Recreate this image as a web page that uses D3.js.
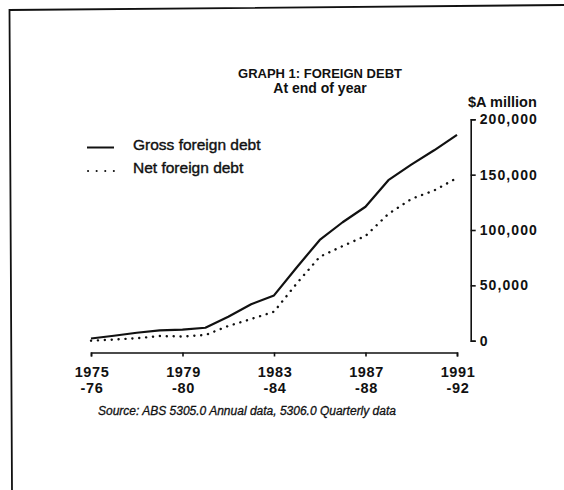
<!DOCTYPE html>
<meta charset="utf-8">
<html>
<head>
  <script src="https://d3js.org/d3.v7.min.js"></script>
</head>
<style>
body { margin: 0; background: white; }
svg text { font-family: "Liberation Sans", Arial, Helvetica, sans-serif; fill: #111; }
</style>
<body>
<div id="container"></div>
<script>

// financial years, labelled by starting year (1975-76 ... 1991-92)
var years = [1975, 1976, 1977, 1978, 1979, 1980, 1981, 1982, 1983, 1984, 1985, 1986, 1987, 1988, 1989, 1990, 1991]
// $A million
var grossDebt = [2000, 4500, 7200, 9400, 10000, 11700, 21700, 32900, 40900, 66400, 91000, 107000, 121000, 145000, 159000, 172000, 186000]
var netDebt = [0, 1000, 2200, 4200, 3800, 5100, 13300, 19600, 26200, 51900, 75800, 85500, 94600, 114500, 128000, 135700, 147000]

var xTickYears = [1975, 1979, 1983, 1987, 1991]
var xTickTop = ["1975", "1979", "1983", "1987", "1991"]
var xTickBottom = ["-76", "-80", "-84", "-88", "-92"]
var yTicks = [0, 50000, 100000, 150000, 200000]

var width = 564, height = 490

var svg = d3.select("#container").append("svg")
  .attr("width", width)
  .attr("height", height)

// frame (only top and left edges are in view, slightly skewed like the scan)
svg.append("path")
  .attr("d", "M564,5 L9.5,10 L12,490")
  .attr("fill", "none")
  .attr("stroke", "#111")
  .attr("stroke-width", 1.8)

var x = d3.scaleLinear().domain([1975, 1991]).range([91, 457])
var y = d3.scaleLinear().domain([0, 200000]).range([340.7, 119.3])

// title
svg.append("text")
   .attr("x", 320).attr("y", 78)
   .attr("text-anchor", "middle")
   .attr("font-size", "13px").attr("font-weight", "bold")
   .text("GRAPH 1: FOREIGN DEBT")
svg.append("text")
   .attr("x", 320).attr("y", 93)
   .attr("text-anchor", "middle")
   .attr("font-size", "14px").attr("font-weight", "bold")
   .text("At end of year")

// y axis on the right
var yAxis = svg.append("g")
  .attr("transform", "translate(470.7,0)")
  .call(d3.axisRight(y).tickValues(yTicks).tickSize(5).tickSizeOuter(5).tickPadding(4)
        .tickFormat(d3.format(",")))
yAxis.select(".domain").attr("stroke", "#111").attr("stroke-width", 1.6)
yAxis.selectAll(".tick line").attr("stroke", "#111").attr("stroke-width", 1.6)
yAxis.selectAll(".tick text")
     .attr("font-size", "14px").attr("font-weight", "bold")
     .attr("letter-spacing", "1.1px")
     .attr("font-family", "Liberation Sans, Arial, sans-serif")
     .attr("fill", "#111")

svg.append("text")
   .attr("x", 468).attr("y", 107)
   .attr("font-size", "14.5px").attr("font-weight", "bold")
   .text("$A million")

// x axis
var xAxis = svg.append("g")
  .attr("transform", "translate(0,352.5)")
  .call(d3.axisBottom(x).tickValues(xTickYears).tickSize(4).tickSizeOuter(4).tickFormat(""))
xAxis.select(".domain").attr("stroke", "#111").attr("stroke-width", 1.6)
xAxis.selectAll(".tick line").attr("stroke", "#111").attr("stroke-width", 1.6)

var xLabels = svg.append("g")
xLabels.selectAll("text.top")
  .data(xTickYears)
  .enter().append("text")
  .attr("x", d => x(d) + 1)
  .attr("y", 377)
  .attr("text-anchor", "middle")
  .attr("font-size", "14.5px").attr("font-weight", "bold")
  .attr("letter-spacing", "0.6px")
  .text((d, i) => xTickTop[i])
xLabels.selectAll("text.bottom")
  .data(xTickYears)
  .enter().append("text")
  .attr("x", d => x(d) + 1)
  .attr("y", 393)
  .attr("text-anchor", "middle")
  .attr("font-size", "14.5px").attr("font-weight", "bold")
  .attr("letter-spacing", "0.6px")
  .text((d, i) => xTickBottom[i])

// lines
var line = d3.line().x((d, i) => x(years[i])).y(d => y(d))

svg.append("path")
   .datum(grossDebt)
   .attr("d", line)
   .attr("fill", "none")
   .attr("stroke", "#111")
   .attr("stroke-width", 2.2)
   .attr("stroke-linejoin", "round")

svg.append("path")
   .datum(netDebt)
   .attr("d", line)
   .attr("fill", "none")
   .attr("stroke", "#111")
   .attr("stroke-width", 2.4)
   .attr("stroke-linecap", "round")
   .attr("stroke-dasharray", "0.1,6.8")

// legend
svg.append("line")
   .attr("x1", 87).attr("x2", 114).attr("y1", 147.5).attr("y2", 147.5)
   .attr("stroke", "#111").attr("stroke-width", 2)
svg.append("text")
   .attr("x", 133).attr("y", 150)
   .attr("font-size", "15.5px")
   .attr("stroke", "#111").attr("stroke-width", 0.4)
   .text("Gross foreign debt")

svg.append("line")
   .attr("x1", 88).attr("x2", 114).attr("y1", 171).attr("y2", 171)
   .attr("stroke", "#111").attr("stroke-width", 2)
   .attr("stroke-linecap", "round")
   .attr("stroke-dasharray", "0.1,8.5")
svg.append("text")
   .attr("x", 133).attr("y", 173)
   .attr("font-size", "15.5px")
   .attr("stroke", "#111").attr("stroke-width", 0.4)
   .text("Net foreign debt")

// source note
svg.append("text")
   .attr("x", 247).attr("y", 415)
   .attr("text-anchor", "middle")
   .attr("font-size", "12px").attr("font-style", "italic")
   .attr("stroke", "#111").attr("stroke-width", 0.3)
   .text("Source: ABS 5305.0 Annual data, 5306.0 Quarterly data")

</script>
</body>
</html>
